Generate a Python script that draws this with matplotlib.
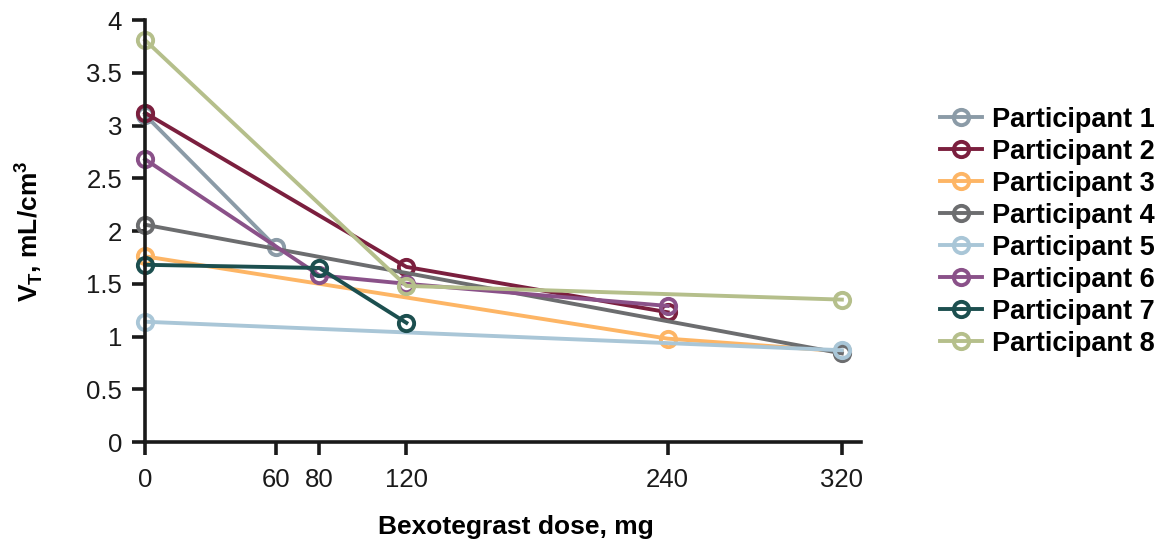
import matplotlib.pyplot as plt

plt.rcParams['font.family'] = ['Liberation Sans', 'DejaVu Sans']

# dose (mg) and V_T (mL/cm3) per participant
p1_dose = [0, 60]
p1_vt = [3.10, 1.85]
p2_dose = [0, 120, 240]
p2_vt = [3.12, 1.66, 1.23]
p3_dose = [0, 240, 320]
p3_vt = [1.76, 0.98, 0.86]
p4_dose = [0, 320]
p4_vt = [2.06, 0.84]
p5_dose = [0, 320]
p5_vt = [1.14, 0.87]
p6_dose = [0, 80, 120, 240]
p6_vt = [2.68, 1.58, 1.50, 1.29]
p7_dose = [0, 80, 120]
p7_vt = [1.68, 1.65, 1.13]
p8_dose = [0, 120, 320]
p8_vt = [3.81, 1.48, 1.35]

labels = ['Participant %d' % i for i in range(1, 9)]
colors = ['#8b9ba7', '#7b1f3e', '#fdb565', '#6c6d6f',
          '#a9c6d7', '#8a5189', '#1c4f4f', '#b5bf8b']
doses = [p1_dose, p2_dose, p3_dose, p4_dose, p5_dose, p6_dose, p7_dose, p8_dose]
vts = [p1_vt, p2_vt, p3_vt, p4_vt, p5_vt, p6_vt, p7_vt, p8_vt]

xticks = [0, 60, 80, 120, 240, 320]
yticks = [0, 0.5, 1, 1.5, 2, 2.5, 3, 3.5, 4]
ytick_labels = ['0', '0.5', '1', '1.5', '2', '2.5', '3', '3.5', '4']

fig = plt.figure(figsize=(11.61, 5.43), dpi=100)
ax = fig.add_axes([0.125, 0.186, 0.617, 0.777])

for d, v, c, lab in zip(doses, vts, colors, labels):
    ax.plot(d, v, color=c, lw=2.8, marker='o', ms=11, mfc='none',
            mec=c, mew=2.8, label=lab, clip_on=False)

ax.set_xlim(0, 329)
ax.set_ylim(0, 4)
ax.set_xticks(xticks)
ax.set_yticks(yticks)
ax.set_yticklabels(ytick_labels)
ax.tick_params(labelsize=18.5, length=9.5, width=2.6, colors='#1a1a1a')
ax.tick_params(axis='x', pad=9)
ax.tick_params(axis='y', pad=7)
for s in ['top', 'right']:
    ax.spines[s].set_visible(False)
for s in ['left', 'bottom']:
    ax.spines[s].set_linewidth(2.6)
    ax.spines[s].set_color('#1a1a1a')

ax.set_xlabel('Bexotegrast dose, mg', fontsize=19, fontweight='bold', labelpad=17)
ax.xaxis.label.set_x(0.518)
ax.set_ylabel(r'V$_\mathregular{T}$, mL/cm$^\mathregular{3}$', fontsize=19,
              fontweight='bold', labelpad=30)

leg = ax.legend(loc='upper left', bbox_to_anchor=(1.095, 0.82), frameon=False,
                fontsize=19.5, handlelength=1.55, handletextpad=0.37,
                labelspacing=0.22, borderaxespad=0)
for t in leg.get_texts():
    t.set_fontweight('bold')

fig.savefig('out.png', dpi=100)
